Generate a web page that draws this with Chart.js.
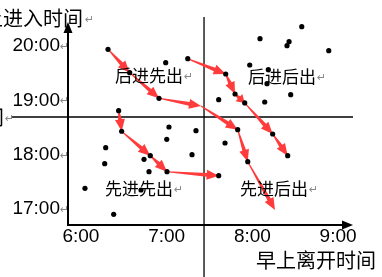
<!DOCTYPE html>
<html>
<head>
<meta charset="utf-8">
<script src="https://cdn.jsdelivr.net/npm/chart.js@4"></script>
<style>
  html, body { margin: 0; padding: 0; background: #fff; }
  #wrap { width: 382px; height: 277px; }
</style>
</head>
<body>
<div id="wrap"><canvas id="timeChart" width="382" height="277"></canvas></div>
<script>
// hours as decimals (7.5 = 7:30)
const xTicks = [6, 7, 8, 9];
const yTicks = [17, 18, 19, 20];

// morning leave time (x) and entry time (y) for each point
const leaveTimes = [6.316, 6.569, 6.989, 6.911, 6.440, 7.246, 7.689, 7.798, 7.911, 7.607,
                    8.089, 8.576, 8.428, 8.404, 8.891, 7.969, 8.186, 8.171, 8.447, 8.144,
                    6.475, 7.027, 7.001, 6.289, 6.277, 6.736, 6.809, 6.794, 7.004, 6.047,
                    6.701, 6.382, 7.342, 7.829, 7.681, 7.296, 7.946, 8.237, 8.412, 7.607];
const enterTimes = [19.944, 19.513, 19.697, 19.042, 18.814, 19.771, 19.489, 19.121, 18.956, 19.016,
                    20.139, 20.360, 20.084, 20.010, 19.918, 19.655, 19.568, 19.311, 19.108, 18.974,
                    18.435, 18.514, 18.287, 18.133, 17.838, 17.919, 17.986, 17.691, 17.691, 17.385,
                    17.354, 16.907, 18.446, 18.464, 18.219, 18.004, 17.875, 18.385, 17.986, 17.617];

// red arrow chains [leave, enter]
const chainA = [[6.316, 19.944], [6.569, 19.513], [6.911, 19.042], [7.401, 18.900], [7.829, 18.464], [7.946, 17.875], [8.264, 16.986]];
const chainB = [[7.246, 19.771], [7.689, 19.489], [7.798, 19.121], [7.911, 18.956], [8.237, 18.385], [8.412, 17.986]];
const chainC = [[6.440, 18.814], [6.475, 18.435], [6.809, 17.986], [7.004, 17.691], [7.607, 17.617]];

const splitLeave = 7.436;
const splitEnter = 18.698;

const quadNames = ['后进先出', '后进后出', '先进先出', '先进后出'];
const quadAt = [[6.397, 19.462], [7.949, 19.443], [6.281, 17.382], [7.856, 17.382]];

const cjk = '"Noto Sans CJK SC", sans-serif';

function drawArrow(ctx, x0, y0, x1, y1) {
    const dx = x1 - x0, dy = y1 - y0;
    const len = Math.hypot(dx, dy);
    const ux = dx / len, uy = dy / len;
    const nx = -uy, ny = ux;
    const hl = Math.min(12, len * 0.6), hw = 5;
    const bx = x1 - ux * hl, by = y1 - uy * hl;
    ctx.beginPath();
    ctx.moveTo(x0 + nx * 0.5, y0 + ny * 0.5);
    ctx.lineTo(bx + nx * 1.9, by + ny * 1.9);
    ctx.lineTo(bx + nx * hw, by + ny * hw);
    ctx.lineTo(x1, y1);
    ctx.lineTo(bx - nx * hw, by - ny * hw);
    ctx.lineTo(bx - nx * 1.9, by - ny * 1.9);
    ctx.lineTo(x0 - nx * 0.5, y0 - ny * 0.5);
    ctx.closePath();
    ctx.fill();
}

const overlay = {
    id: 'overlay',
    beforeDatasetsDraw(chart) {
        const {ctx, chartArea: a, scales: {x, y}} = chart;
        ctx.save();
        // quadrant split lines
        ctx.strokeStyle = '#000';
        ctx.lineWidth = 1.3;
        const vx = x.getPixelForValue(splitLeave);
        ctx.beginPath(); ctx.moveTo(vx, 17); ctx.lineTo(vx, chart.height); ctx.stroke();
        const hy = y.getPixelForValue(splitEnter);
        ctx.beginPath(); ctx.moveTo(11, hy); ctx.lineTo(a.right, hy); ctx.stroke();

        // axes with arrow heads
        ctx.lineWidth = 2;
        ctx.beginPath();
        ctx.moveTo(a.left, a.top + 8); ctx.lineTo(a.left, a.bottom);
        ctx.lineTo(a.right - 8, a.bottom);
        ctx.stroke();
        ctx.fillStyle = '#000';
        ctx.beginPath();
        ctx.moveTo(a.left, a.top); ctx.lineTo(a.left - 4.5, a.top + 11); ctx.lineTo(a.left + 4.5, a.top + 11);
        ctx.closePath(); ctx.fill();
        ctx.beginPath();
        ctx.moveTo(a.right, a.bottom); ctx.lineTo(a.right - 11, a.bottom - 4.5); ctx.lineTo(a.right - 11, a.bottom + 4.5);
        ctx.closePath(); ctx.fill();

        // red arrows
        ctx.fillStyle = '#ff3b3b';
        [chainA, chainB, chainC].forEach(chain => {
            for (let i = 0; i < chain.length - 1; i++) {
                drawArrow(ctx,
                    x.getPixelForValue(chain[i][0]), y.getPixelForValue(chain[i][1]),
                    x.getPixelForValue(chain[i + 1][0]), y.getPixelForValue(chain[i + 1][1]));
            }
        });
        ctx.restore();
    },
    afterDatasetsDraw(chart) {
        const {ctx, scales: {x, y}} = chart;
        ctx.save();
        ctx.textBaseline = 'middle';
        // quadrant names
        ctx.font = '17px ' + cjk;
        quadNames.forEach((name, i) => {
            const px = x.getPixelForValue(quadAt[i][0]);
            const py = y.getPixelForValue(quadAt[i][1]);
            ctx.fillStyle = '#000';
            ctx.textAlign = 'left';
            ctx.fillText(name, px, py);
            const w = ctx.measureText(name).width;
            ctx.fillStyle = '#888';
            ctx.font = '11px "DejaVu Sans"';
            ctx.fillText('\u21B5', px + w + 1, py + 2);
            ctx.font = '17px ' + cjk;
        });

        // axis titles
        ctx.fillStyle = '#000';
        ctx.font = '20px ' + cjk;
        ctx.textAlign = 'right';
        ctx.fillText('早上进入时间', 83, 18);
        ctx.fillText('时间', 4, 117);
        ctx.textAlign = 'left';
        ctx.fillText('早上离开时间', 256, 260);

        // paragraph marks
        ctx.fillStyle = '#888';
        ctx.font = '11px "DejaVu Sans"';
        ctx.fillText('\u21B5', 85, 20);
        ctx.fillText('\u21B5', 5, 119);
        yTicks.forEach(v => ctx.fillText('\u21B5', 60, y.getPixelForValue(v) + 1));
        ctx.restore();
    }
};

const ctx = document.getElementById('timeChart').getContext('2d');
const chart = new Chart(ctx, {
    type: 'scatter',
    data: {
        datasets: [{
            data: leaveTimes.map((h, i) => ({x: h, y: enterTimes[i]})),
            backgroundColor: '#000',
            borderWidth: 0,
            pointRadius: 2.6,
            clip: false
        }]
    },
    options: {
        responsive: false,
        animation: false,
        events: [],
        layout: {
            padding: {top: 22, right: 29, left: 0, bottom: 0}
        },
        plugins: {
            legend: {display: false},
            tooltip: {enabled: false}
        },
        scales: {
            x: {
                type: 'linear',
                min: 5.849,
                max: 9.174,
                grid: {display: false, drawTicks: false},
                border: {display: false},
                afterBuildTicks: s => { s.ticks = xTicks.map(v => ({value: v})); },
                afterFit: s => { s.height = 52; },
                ticks: {
                    padding: 0,
                    color: '#000',
                    font: {family: '"Liberation Sans"', size: 19},
                    maxRotation: 0,
                    callback: v => v + ':00'
                }
            },
            y: {
                type: 'linear',
                min: 16.710,
                max: 20.446,
                grid: {display: false, drawTicks: false},
                border: {display: false},
                afterBuildTicks: s => { s.ticks = yTicks.map(v => ({value: v})); },
                afterFit: s => { s.width = 68; },
                ticks: {
                    padding: 8,
                    color: '#000',
                    font: {family: '"Liberation Sans"', size: 19},
                    callback: v => v + ':00'
                }
            }
        }
    },
    plugins: [overlay]
});
</script>
</body>
</html>
